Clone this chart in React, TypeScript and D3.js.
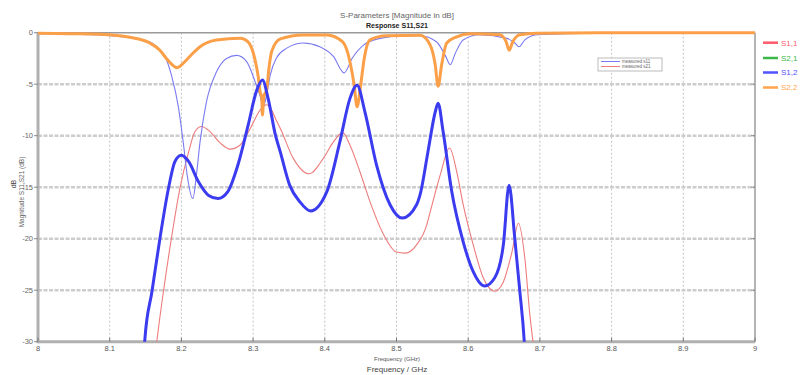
import React, { useEffect, useRef } from "react";
import * as d3 from "d3";

// tick values
const xTicks = [8, 8.1, 8.2, 8.3, 8.4, 8.5, 8.6, 8.7, 8.8, 8.9, 9];
const xTickLabels = ["8", "8.1", "8.2", "8.3", "8.4", "8.5", "8.6", "8.7", "8.8", "8.9", "9"];
const yTicks = [0, -5, -10, -15, -20, -25, -30];

// [GHz, dB]
const s22 = [
  [8.0, -0.05], [8.045, -0.1], [8.086, -0.16], [8.128, -0.45], [8.156, -1.0], [8.17, -1.7],
  [8.179, -2.5], [8.187, -3.1], [8.194, -3.4], [8.199, -3.2], [8.207, -2.65], [8.216, -2.0],
  [8.226, -1.36], [8.249, -0.7], [8.282, -0.55], [8.293, -0.9], [8.298, -1.5], [8.305, -3.4],
  [8.307, -4.2], [8.31, -5.8], [8.312, -6.2], [8.313, -8.0], [8.315, -6.2], [8.319, -5.5],
  [8.322, -3.5], [8.326, -1.8], [8.338, -0.6], [8.37, -0.22], [8.403, -0.22], [8.425, -0.9],
  [8.435, -2.8], [8.441, -5.1], [8.445, -7.2], [8.45, -5.1], [8.455, -2.5], [8.463, -0.7],
  [8.486, -0.3], [8.533, -0.25], [8.547, -1.2], [8.554, -3.1], [8.558, -5.2], [8.563, -3.1],
  [8.57, -1.0], [8.584, -0.4], [8.603, -0.1], [8.644, -0.2], [8.653, -0.9], [8.657, -1.7],
  [8.662, -0.9], [8.672, -0.2], [8.696, -0.05], [8.784, 0], [9.0, 0],
];

const s12 = [
  [8.148, -31], [8.149, -29.8], [8.159, -25.1], [8.17, -20], [8.182, -15.1], [8.191, -12.5],
  [8.2, -11.9], [8.21, -12.5], [8.224, -14.5], [8.238, -15.8], [8.251, -16.1], [8.265, -15.4],
  [8.279, -12.8], [8.293, -9.0], [8.305, -5.6], [8.313, -4.6], [8.321, -6.4], [8.331, -9.9],
  [8.338, -11.6], [8.351, -14.8], [8.365, -16.4], [8.38, -17.3], [8.403, -15.4], [8.421, -10.6],
  [8.435, -6.4], [8.445, -5.1], [8.456, -7.7], [8.472, -12.8], [8.491, -16.7], [8.508, -18.0],
  [8.528, -16.7], [8.533, -15.7], [8.544, -11.5], [8.554, -7.7], [8.558, -6.85], [8.565, -9.6],
  [8.577, -15.4], [8.593, -20.3], [8.607, -23.2], [8.623, -24.6], [8.637, -23.8], [8.649, -20.6],
  [8.657, -14.8], [8.665, -20.0], [8.672, -25.1], [8.678, -29.8], [8.679, -31],
];

const measuredS11 = [
  [8.0, -0.1], [8.086, -0.22], [8.156, -0.9], [8.17, -1.7], [8.179, -2.6], [8.186, -4.1],
  [8.196, -7.3], [8.203, -10.9], [8.208, -13.8], [8.216, -16.1], [8.221, -13.8], [8.226, -10.6],
  [8.235, -6.7], [8.249, -3.8], [8.263, -2.5], [8.277, -2.2], [8.291, -2.8], [8.303, -4.8],
  [8.31, -6.2], [8.314, -7.2], [8.319, -6.0], [8.324, -4.1], [8.333, -2.4], [8.347, -1.5],
  [8.37, -1.0], [8.393, -1.36], [8.412, -2.3], [8.427, -3.9], [8.438, -2.5], [8.454, -1.2],
  [8.477, -0.55], [8.509, -0.3], [8.533, -0.3], [8.556, -0.9], [8.568, -2.2], [8.575, -3.1],
  [8.582, -2.0], [8.593, -0.7], [8.616, -0.2], [8.654, -0.55], [8.665, -1.0], [8.671, -1.36],
  [8.679, -0.7], [8.696, -0.2], [8.784, -0.05], [9.0, 0],
];

const measuredS21 = [
  [8.164, -31], [8.166, -29.8], [8.175, -25.1], [8.186, -20], [8.198, -15.1], [8.21, -11.6],
  [8.219, -9.6], [8.228, -9.1], [8.24, -9.6], [8.254, -10.7], [8.268, -11.3], [8.282, -10.9],
  [8.296, -9.3], [8.31, -7.5], [8.319, -7.0], [8.324, -7.3], [8.333, -8.6], [8.338, -9.3],
  [8.356, -12.2], [8.378, -13.7], [8.398, -12.2], [8.412, -10.6], [8.425, -9.7], [8.435, -10.9],
  [8.449, -13.5], [8.463, -16.4], [8.482, -19.6], [8.5, -21.3], [8.512, -21.4], [8.528, -20.6],
  [8.542, -18.7], [8.547, -17.4], [8.561, -13.8], [8.574, -11.2], [8.584, -13.5], [8.593, -16.7],
  [8.607, -20.6], [8.621, -23.8], [8.637, -25.1], [8.649, -24.2], [8.661, -21.3], [8.67, -18.5],
  [8.679, -21.9], [8.686, -27.4], [8.69, -29.8], [8.692, -31],
];

const legendNames = ["S1,1", "S2,1", "S1,2", "S2,2"];
const legendColors = ["#ff5a6e", "#3cb84a", "#5252ff", "#ffa64d"];
const innerLegendNames = ["measured s11", "measured s21"];
const innerLegendColors = ["#7a7af2", "#ee7c7c"];

const FONT = "'Liberation Sans', Arial, sans-serif";

const App = () => {
  const svgRef = useRef<SVGSVGElement>(null);

  useEffect(() => {
    const svg = d3.select(svgRef.current);
    svg.selectAll("*").remove();

    const left = 38, right = 755, top = 32.7, bottom = 341.7;
    const x = d3.scaleLinear().domain([8, 9]).range([left, right]);
    const y = d3.scaleLinear().domain([0, -30]).range([top, bottom]);

    svg.append("rect").attr("width", 801).attr("height", 375).attr("fill", "white");

    // titles
    svg.append("text").attr("x", 397).attr("y", 18).attr("text-anchor", "middle")
      .style("font-size", "8px").style("font-family", FONT).attr("fill", "#666")
      .text("S-Parameters [Magnitude in dB]");
    svg.append("text").attr("x", 397).attr("y", 27.5).attr("text-anchor", "middle")
      .style("font-size", "7px").style("font-weight", "bold").style("font-family", FONT).attr("fill", "#222")
      .text("Response S11,S21");

    // grid
    const grid = svg.append("g");
    grid.selectAll(".vgrid").data(xTicks.slice(1, -1)).enter().append("line")
      .attr("x1", d => x(d)).attr("x2", d => x(d)).attr("y1", top).attr("y2", bottom)
      .attr("stroke", "#c4c4c4").attr("stroke-width", 1).attr("stroke-dasharray", "2,2");
    grid.selectAll(".hgrid").data(yTicks.slice(1, -1)).enter().append("line")
      .attr("x1", left).attr("x2", right).attr("y1", d => y(d)).attr("y2", d => y(d))
      .attr("stroke", "#cdcdcd").attr("stroke-width", 2.5).attr("stroke-dasharray", "4,1.5");

    // frame
    svg.append("line").attr("x1", left).attr("x2", right).attr("y1", top).attr("y2", top)
      .attr("stroke", "#9a9a9a").attr("stroke-width", 1.5);
    svg.append("line").attr("x1", right).attr("x2", right).attr("y1", top).attr("y2", bottom)
      .attr("stroke", "#b4b4b4").attr("stroke-width", 2);
    svg.append("line").attr("x1", left).attr("x2", right).attr("y1", bottom).attr("y2", bottom)
      .attr("stroke", "#b0b0b0").attr("stroke-width", 3);
    svg.append("line").attr("x1", left).attr("x2", left).attr("y1", top).attr("y2", bottom + 1.5)
      .attr("stroke", "#b0b0b0").attr("stroke-width", 3);

    // ticks + labels
    svg.selectAll(".yt").data(yTicks).enter().append("line")
      .attr("x1", left - 4).attr("x2", left).attr("y1", d => y(d)).attr("y2", d => y(d))
      .attr("stroke", "#888").attr("stroke-width", 1);
    svg.selectAll(".ytr").data(yTicks.slice(1, -1)).enter().append("line")
      .attr("x1", right - 4).attr("x2", right).attr("y1", d => y(d)).attr("y2", d => y(d))
      .attr("stroke", "#888").attr("stroke-width", 1);
    svg.selectAll(".ylab").data(yTicks).enter().append("text")
      .attr("x", left - 5).attr("y", d => y(d)).attr("dy", "0.35em").attr("text-anchor", "end")
      .style("font-size", "7.5px").style("font-family", FONT).attr("fill", "#666")
      .text(d => `${d}`);
    svg.selectAll(".xt").data(xTicks).enter().append("line")
      .attr("x1", d => x(d)).attr("x2", d => x(d)).attr("y1", bottom - 4).attr("y2", bottom)
      .attr("stroke", "#777").attr("stroke-width", 1);
    svg.selectAll(".xlab").data(xTicks).enter().append("text")
      .attr("x", d => x(d)).attr("y", bottom + 9.5).attr("text-anchor", "middle")
      .style("font-size", "7.5px").style("font-family", FONT).attr("fill", "#555")
      .text((d, i) => xTickLabels[i]);

    // axis titles
    svg.append("text").attr("x", 397).attr("y", 360.5).attr("text-anchor", "middle")
      .style("font-size", "6px").style("font-family", FONT).attr("fill", "#555")
      .text("Frequency (GHz)");
    svg.append("text").attr("x", 397).attr("y", 371.5).attr("text-anchor", "middle")
      .style("font-size", "8px").style("font-family", FONT).attr("fill", "#444")
      .text("Frequency / GHz");
    svg.append("text").attr("transform", "translate(24,192) rotate(-90)").attr("text-anchor", "middle")
      .style("font-size", "6.5px").style("font-family", FONT).attr("fill", "#666")
      .text("Magnitude S11,S21 (dB)");
    svg.append("text").attr("transform", "translate(16,184) rotate(-90)").attr("text-anchor", "middle")
      .style("font-size", "7px").style("font-family", FONT).attr("fill", "#444")
      .text("dB");

    // curves
    svg.append("clipPath").attr("id", "plotClip").append("rect")
      .attr("x", left).attr("y", top - 4).attr("width", right - left).attr("height", bottom - top + 4);
    const line = d3.line<number[]>().x(d => x(d[0])).y(d => y(d[1])).curve(d3.curveMonotoneX);
    const curves = svg.append("g").attr("clip-path", "url(#plotClip)");
    const series = [
      { data: measuredS21, color: "#ee7c7c", width: 1.1 },
      { data: measuredS11, color: "#7a7af2", width: 1.1 },
      { data: s22, color: "#fba049", width: 3 },
      { data: s12, color: "#3b3bef", width: 3 },
    ];
    series.forEach(s => {
      curves.append("path").attr("d", line(s.data)).attr("fill", "none")
        .attr("stroke", s.color).attr("stroke-width", s.width).attr("stroke-linejoin", "round");
    });

    // inner legend
    const il = svg.append("g");
    il.append("rect").attr("x", 598).attr("y", 58).attr("width", 64).attr("height", 13)
      .attr("fill", "white").attr("stroke", "#aaa").attr("stroke-width", 0.8);
    innerLegendNames.forEach((name, i) => {
      const ly = 61.5 + i * 5;
      il.append("line").attr("x1", 601).attr("x2", 620).attr("y1", ly).attr("y2", ly)
        .attr("stroke", innerLegendColors[i]).attr("stroke-width", 1);
      il.append("text").attr("x", 622).attr("y", ly).attr("dy", "0.35em")
        .style("font-size", "4.5px").style("font-family", FONT).attr("fill", "#666").text(name);
    });

    // side legend
    const legendY = [42.7, 58, 72.5, 87.5];
    legendNames.forEach((name, i) => {
      svg.append("line").attr("x1", 763).attr("x2", 778).attr("y1", legendY[i]).attr("y2", legendY[i])
        .attr("stroke", legendColors[i]).attr("stroke-width", 2.5);
      svg.append("text").attr("x", 781).attr("y", legendY[i]).attr("dy", "0.35em")
        .style("font-size", "8px").style("font-family", FONT).attr("fill", legendColors[i]).text(name);
    });
  }, []);

  return (
    <svg ref={svgRef} width={801} height={375}
      style={{ position: "absolute", left: 0, top: 0, display: "block" }} />
  );
};

export default App;
